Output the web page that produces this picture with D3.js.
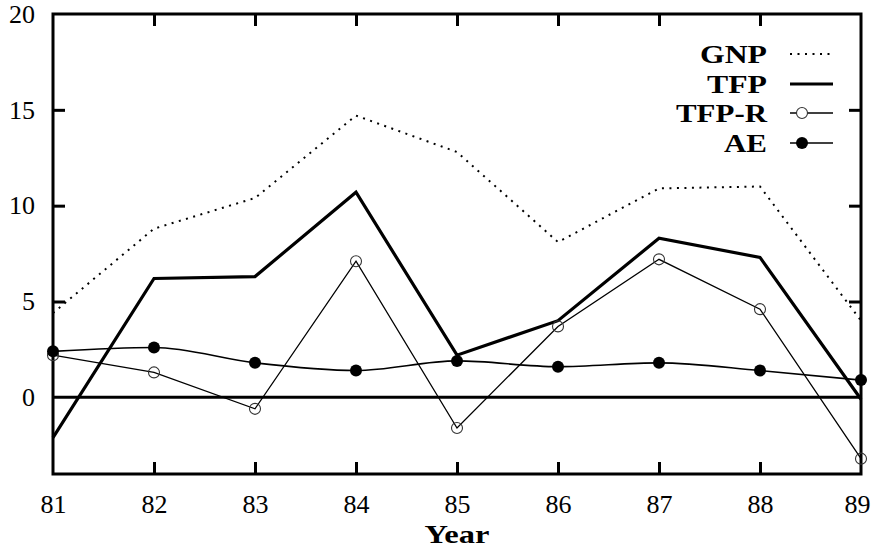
<!DOCTYPE html>
<html>
<head>
<meta charset="utf-8">
<script src="https://cdn.jsdelivr.net/npm/d3@7"></script>
<style>
  html, body { margin: 0; padding: 0; background: #fff; }
  svg { display: block; }
  svg text, .tick text { font-family: "Liberation Serif", serif !important; }
</style>
</head>
<body>
<svg id="chart" width="872" height="548"></svg>
<script>
// ---- data ----
const years = [81, 82, 83, 84, 85, 86, 87, 88, 89];
const gnp   = [4.4, 8.8, 10.4, 14.7, 12.8, 8.1, 10.9, 11.0, 4.0];
const tfp   = [-2.1, 6.2, 6.3, 10.7, 2.2, 4.0, 8.3, 7.3, -0.1];
const tfpR  = [2.2, 1.3, -0.6, 7.1, -1.6, 3.7, 7.2, 4.6, -3.2];
const ae    = [2.4, 2.6, 1.8, 1.4, 1.9, 1.6, 1.8, 1.4, 0.9];
const yTicks = [0, 5, 10, 15, 20];
const xTicks = years;
const legendLabels = ["GNP", "TFP", "TFP-R", "AE"];
const xTitle = "Year";

// ---- layout ----
const L = 53, R = 861, T = 14, B = 474;
const svg = d3.select("#chart");
const x = d3.scaleLinear().domain([81, 89]).range([L, R]);
const y = d3.scaleLinear().domain([-4, 20]).range([B, T]);
const serif = "Liberation Serif";

// frame
svg.append("rect").attr("x", L).attr("y", T).attr("width", R - L).attr("height", B - T)
  .attr("fill", "none").attr("stroke", "#000").attr("stroke-width", 3);

const tickLen = 12;
const xAxis = d3.axisBottom(x).tickValues(xTicks).tickSize(-tickLen).tickFormat(d3.format("d")).tickPadding(21);
const gx = svg.append("g").attr("transform", `translate(0,${B})`).call(xAxis);
const gxt = svg.append("g").attr("transform", `translate(0,${T})`)
  .call(d3.axisTop(x).tickValues(xTicks.slice(1, -1)).tickSize(-tickLen).tickFormat(""));
const yAxis = d3.axisLeft(y).tickValues(yTicks).tickSize(-tickLen).tickFormat(d3.format("d")).tickPadding(18);
const gy = svg.append("g").attr("transform", `translate(${L},0)`).call(yAxis);
const gyr = svg.append("g").attr("transform", `translate(${R},0)`)
  .call(d3.axisRight(y).tickValues(yTicks.filter(v => v > 0 && v < 20)).tickSize(-tickLen).tickFormat(""));

[gx, gxt, gy, gyr].forEach(g => {
  g.attr("font-family", serif).attr("font-size", 26);
  g.select(".domain").remove();
  g.selectAll(".tick line").attr("stroke", "#000").attr("stroke-width", 3);
  g.selectAll(".tick text").attr("fill", "#000").attr("font-size", 26);
});
gx.selectAll(".tick line").filter(d => d === 81 || d === 89).remove();
gy.selectAll(".tick line").filter(d => d === 0 || d === 20).remove();
gx.selectAll(".tick text").filter(d => d === 89).attr("dx", -4);

// zero line
svg.append("line").attr("x1", x(81)).attr("x2", x(89)).attr("y1", y(0)).attr("y2", y(0))
  .attr("stroke", "#000").attr("stroke-width", 3);

// x title
svg.append("text").attr("x", (L + R) / 2).attr("y", 543).attr("text-anchor", "middle")
  .style("font-size", "26px").style("font-weight", "bold")
  .attr("textLength", 65).attr("lengthAdjust", "spacingAndGlyphs").text(xTitle);

const lineStraight = d3.line().x((d, i) => x(years[i])).y(d => y(d));
const lineSmooth = d3.line().x((d, i) => x(years[i])).y(d => y(d)).curve(d3.curveMonotoneX);

// GNP dotted
svg.append("path").attr("d", lineStraight(gnp)).attr("fill", "none")
  .attr("stroke", "#000").attr("stroke-width", 2).attr("stroke-dasharray", "2 5.5");
// TFP thick
svg.append("path").attr("d", lineStraight(tfp)).attr("fill", "none")
  .attr("stroke", "#000").attr("stroke-width", 3.2).attr("stroke-linejoin", "miter");
// TFP-R thin with open circles
svg.append("path").attr("d", lineStraight(tfpR)).attr("fill", "none")
  .attr("stroke", "#000").attr("stroke-width", 1.3);
svg.append("g").selectAll("circle").data(tfpR).join("circle")
  .attr("cx", (d, i) => x(years[i])).attr("cy", d => y(d)).attr("r", 5.5)
  .attr("fill", "none").attr("stroke", "#333").attr("stroke-width", 1.1);
// AE smooth with filled circles
svg.append("path").attr("d", lineSmooth(ae)).attr("fill", "none")
  .attr("stroke", "#000").attr("stroke-width", 1.6);
svg.append("g").selectAll("circle").data(ae).join("circle")
  .attr("cx", (d, i) => x(years[i])).attr("cy", d => y(d)).attr("r", 6)
  .attr("fill", "#000");

// legend
const legY = [54, 84, 113, 143];
const legW = [67, 60, 91, 43];
const lg = svg.append("g");
legendLabels.forEach((lab, i) => {
  lg.append("text").attr("x", 767).attr("y", legY[i]).attr("dy", "0.35em")
    .attr("text-anchor", "end").style("font-size", "26px")
    .style("font-weight", "bold").attr("textLength", legW[i]).attr("lengthAdjust", "spacingAndGlyphs")
    .text(lab);
});
const lx1 = 790, lx2 = 833;
lg.append("line").attr("x1", lx1).attr("x2", lx2).attr("y1", legY[0]).attr("y2", legY[0])
  .attr("stroke", "#000").attr("stroke-width", 2).attr("stroke-dasharray", "2 5.5");
lg.append("line").attr("x1", lx1).attr("x2", lx2).attr("y1", legY[1]).attr("y2", legY[1])
  .attr("stroke", "#000").attr("stroke-width", 3.2);
lg.append("line").attr("x1", lx1).attr("x2", lx2).attr("y1", legY[2]).attr("y2", legY[2])
  .attr("stroke", "#000").attr("stroke-width", 1.3);
lg.append("circle").attr("cx", 802).attr("cy", legY[2]).attr("r", 5.5)
  .attr("fill", "#fff").attr("stroke", "#333").attr("stroke-width", 1.1);
lg.append("line").attr("x1", lx1).attr("x2", lx2).attr("y1", legY[3]).attr("y2", legY[3])
  .attr("stroke", "#000").attr("stroke-width", 1.6);
lg.append("circle").attr("cx", 802).attr("cy", legY[3]).attr("r", 6).attr("fill", "#000");
</script>
</body>
</html>
